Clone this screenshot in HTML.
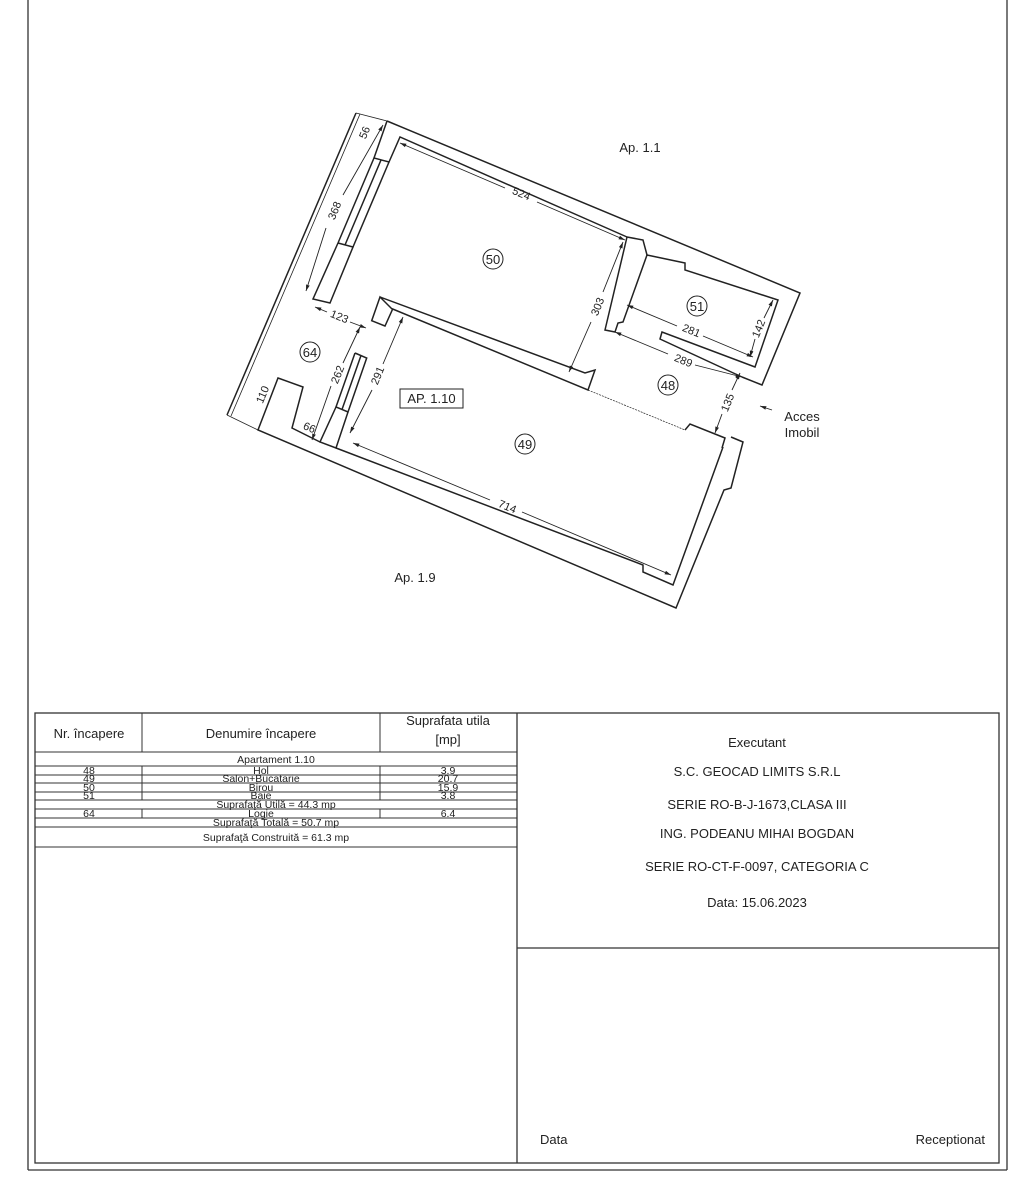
<!DOCTYPE html>
<html><head><meta charset="utf-8"><style>
html,body{margin:0;padding:0;background:#fff;}
svg{display:block;font-family:"Liberation Sans",Arial,sans-serif;}
</style></head><body>
<svg width="1023" height="1200" viewBox="0 0 1023 1200" xmlns="http://www.w3.org/2000/svg">
<defs>
<marker id="a" viewBox="0 0 10 10" refX="10" refY="5" markerWidth="7" markerHeight="7" orient="auto-start-reverse"><path d="M0,2 L10,5 L0,8 z" fill="#222"/></marker>
</defs>
<rect width="1023" height="1200" fill="#fff"/>
<g stroke="#333" fill="none" stroke-width="1.3">
<line x1="28" y1="0" x2="28" y2="1170"/>
<line x1="1007" y1="0" x2="1007" y2="1170"/>
<line x1="28" y1="1170" x2="1007" y2="1170"/>
<rect x="35" y="713" width="964" height="450"/>
<line x1="517" y1="713" x2="517" y2="1163"/>
<line x1="517" y1="948" x2="999" y2="948"/>
</g>
<g stroke="#333" stroke-width="1" fill="none">
<line x1="142" y1="713" x2="142" y2="752"/><line x1="380" y1="713" x2="380" y2="752"/>
<line x1="35" y1="752" x2="517" y2="752"/>
<line x1="35" y1="766" x2="517" y2="766"/>
<line x1="35" y1="775" x2="517" y2="775"/>
<line x1="35" y1="783" x2="517" y2="783"/>
<line x1="35" y1="792" x2="517" y2="792"/>
<line x1="35" y1="800" x2="517" y2="800"/>
<line x1="35" y1="809" x2="517" y2="809"/>
<line x1="35" y1="818" x2="517" y2="818"/>
<line x1="35" y1="827" x2="517" y2="827"/>
<line x1="35" y1="847" x2="517" y2="847"/>
<line x1="142" y1="766" x2="142" y2="800"/><line x1="380" y1="766" x2="380" y2="800"/>
<line x1="142" y1="809" x2="142" y2="818"/><line x1="380" y1="809" x2="380" y2="818"/>
</g>
<g fill="#222" text-anchor="middle" font-size="13">
<text x="89" y="738">Nr. încapere</text>
<text x="261" y="738">Denumire încapere</text>
<text x="448" y="725">Suprafata utila</text>
<text x="448" y="744">[mp]</text>
</g>
<g fill="#222" text-anchor="middle" font-size="10.5">
<text x="276" y="763">Apartament 1.10</text>
<text x="89" y="774">48</text><text x="261" y="774">Hol</text><text x="448" y="774">3.9</text>
<text x="89" y="782">49</text><text x="261" y="782">Salon+Bucatarie</text><text x="448" y="782">20.7</text>
<text x="89" y="791">50</text><text x="261" y="791">Birou</text><text x="448" y="791">15.9</text>
<text x="89" y="799">51</text><text x="261" y="799">Baie</text><text x="448" y="799">3.8</text>
<text x="276" y="808">Suprafaţă Utilă = 44.3 mp</text>
<text x="89" y="817">64</text><text x="261" y="817">Logie</text><text x="448" y="817">6.4</text>
<text x="276" y="826">Suprafaţă Totală = 50.7 mp</text>
<text x="276" y="841">Suprafaţă Construită = 61.3 mp</text>
</g>
<g fill="#222" text-anchor="middle" font-size="13">
<text x="757" y="747">Executant</text>
<text x="757" y="776">S.C. GEOCAD LIMITS S.R.L</text>
<text x="757" y="809">SERIE RO-B-J-1673,CLASA III</text>
<text x="757" y="838">ING. PODEANU MIHAI BOGDAN</text>
<text x="757" y="871">SERIE RO-CT-F-0097, CATEGORIA C</text>
<text x="757" y="907">Data: 15.06.2023</text>
</g>
<text x="540" y="1144" font-size="13" fill="#222">Data</text>
<text x="985" y="1144" font-size="13" fill="#222" text-anchor="end">Receptionat</text>

<g stroke="#222" stroke-width="1.5" fill="none" stroke-linejoin="miter">
<polyline points="387,121 800,293 762,385 742,377"/>
<polyline points="387,121 374,158 389,162 400,137 627,237"/>
<line x1="374" y1="158" x2="338" y2="243"/>
<line x1="381" y1="160" x2="345" y2="245"/>
<line x1="389" y1="162" x2="353" y2="247"/>
<polyline points="338,243 313,299 330,303 353,247 338,243"/>
<polyline points="627,237 605,330 615,332 618,323 623,322 647,255 685,263 685,270 778,300 755,367 662,332 660,339 742,377"/>
<polyline points="627,237 643,240 647,255"/>
<polyline points="392,309 380,297 371.7,320.7 385,326 392.7,309 588,390 595,370 585,373 380,297"/>
<polyline points="355,353 366.7,358 348,412 336,407 355,353"/>
<line x1="361" y1="355.5" x2="342" y2="409.5"/>
<polyline points="336,407 320,442 336,448 348,412"/>
<polyline points="336,448 643,565 643,572 673,585 723,447 722,448 725,438 690,424 685,430"/>
<polyline points="731,437 743,442 731,488 724,490 676,608 258,430 278,378 303,387 292,428 320,442"/>
<line x1="356" y1="113" x2="227" y2="415"/>
<line x1="360" y1="114" x2="231" y2="416" stroke-width="0.8"/>
<line x1="356" y1="113" x2="387" y2="121" stroke-width="0.8"/>
<line x1="227" y1="415" x2="258" y2="430" stroke-width="0.8"/>
<line x1="588" y1="390" x2="685" y2="430" stroke-width="0.7" stroke-dasharray="2,1"/>
</g>
<g stroke="#222" stroke-width="0.9" fill="none">
<line x1="400" y1="143" x2="505" y2="188" marker-start="url(#a)"/><line x1="537" y1="202" x2="625" y2="240" marker-end="url(#a)"/>
<line x1="623" y1="242" x2="603" y2="292" marker-start="url(#a)"/><line x1="591" y1="322" x2="569" y2="372" marker-end="url(#a)"/>
<line x1="383" y1="125" x2="343" y2="195" marker-start="url(#a)"/><line x1="326" y1="228" x2="306" y2="291" marker-end="url(#a)"/>
<line x1="315" y1="307" x2="327" y2="312" marker-start="url(#a)"/><line x1="350" y1="322" x2="366" y2="328" marker-end="url(#a)"/>
<line x1="360" y1="327" x2="343" y2="363" marker-start="url(#a)"/><line x1="331" y1="386" x2="312" y2="440" marker-end="url(#a)"/>
<line x1="403" y1="317" x2="383" y2="364" marker-start="url(#a)"/><line x1="372" y1="390" x2="350" y2="433" marker-end="url(#a)"/>
<line x1="353" y1="443" x2="490" y2="500" marker-start="url(#a)"/><line x1="522" y1="512" x2="671" y2="575" marker-end="url(#a)"/>
<line x1="627" y1="305" x2="677" y2="326" marker-start="url(#a)"/><line x1="703" y1="336" x2="753" y2="357" marker-end="url(#a)"/>
<line x1="773" y1="300" x2="764" y2="318" marker-start="url(#a)"/><line x1="755" y1="339" x2="750" y2="357" marker-end="url(#a)"/>
<line x1="615" y1="332" x2="668" y2="354" marker-start="url(#a)"/><line x1="695" y1="365" x2="742" y2="377" marker-end="url(#a)"/>
<line x1="740" y1="373" x2="732" y2="390" marker-start="url(#a)"/><line x1="722" y1="414" x2="715" y2="433" marker-end="url(#a)"/>
<line x1="772" y1="410" x2="760" y2="406" marker-end="url(#a)"/>
</g>
<g fill="#222" font-size="11" text-anchor="middle">
<text transform="translate(520,197) rotate(22.6)">524</text>
<text transform="translate(601,308) rotate(-67.4)">303</text>
<text transform="translate(338,212) rotate(-67.4)">368</text>
<text transform="translate(368,134) rotate(-67.4)">56</text>
<text transform="translate(338,320) rotate(22.6)">123</text>
<text transform="translate(341,376) rotate(-67.4)">262</text>
<text transform="translate(381,377) rotate(-67.4)">291</text>
<text transform="translate(266,396) rotate(-67.4)">110</text>
<text transform="translate(308,431) rotate(22.6)">66</text>
<text transform="translate(506,510) rotate(22.6)">714</text>
<text transform="translate(690,334) rotate(22.6)">281</text>
<text transform="translate(762,330) rotate(-67.4)">142</text>
<text transform="translate(682,364) rotate(22.6)">289</text>
<text transform="translate(731,404) rotate(-67.4)">135</text>
</g>
<g fill="none" stroke="#222" stroke-width="1">
<circle cx="493" cy="259" r="10"/>
<circle cx="697" cy="306" r="10"/>
<circle cx="668" cy="385" r="10"/>
<circle cx="525" cy="444" r="10"/>
<circle cx="310" cy="352" r="10"/>
<rect x="400" y="389" width="63" height="19"/>
</g>
<g fill="#222" font-size="13" text-anchor="middle">
<text x="493" y="264">50</text>
<text x="697" y="311">51</text>
<text x="668" y="390">48</text>
<text x="525" y="449">49</text>
<text x="310" y="357">64</text>
<text x="431.5" y="403">AP. 1.10</text>
<text x="640" y="152">Ap. 1.1</text>
<text x="415" y="582">Ap. 1.9</text>
<text x="802" y="421">Acces</text>
<text x="802" y="437">Imobil</text>
</g>
</svg>
</body></html>
